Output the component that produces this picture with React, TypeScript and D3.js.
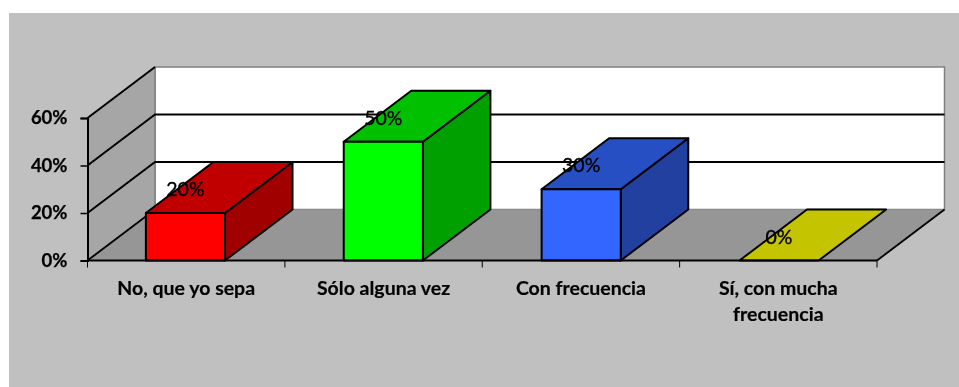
import React, { useEffect, useRef } from 'react';
import * as d3 from 'd3';

const categories = [['No, que yo sepa'], ['Sólo alguna vez'], ['Con frecuencia'], ['Sí, con mucha', 'frecuencia']];
const values = [20, 50, 30, 0];
const yTicks = [0, 20, 40, 60];
const frontColors = ['#ff0000', '#00ff00', '#3366ff', '#ffff00'];
const topColors = ['#c00000', '#00c000', '#2850c4', '#c4c400'];
const sideColors = ['#a00000', '#00a000', '#2040a0', '#a0a000'];

const FONT = 'Lato, sans-serif';

const App = () => {
  const svgRef = useRef<SVGSVGElement>(null);

  useEffect(() => {
    const svg = d3.select(svgRef.current);
    svg.selectAll('*').remove();

    const x0 = 87.5;
    const x1 = 877;
    const dx = 67.5; // oblique depth of the box
    const dy = -51;

    const y = d3.scaleLinear().domain([0, 60]).range([260.5, 118]);
    const x = d3.scaleBand<number>()
      .domain(d3.range(categories.length))
      .range([x0, x1])
      .paddingInner(0.6)
      .paddingOuter(0.295);
    const step = (x1 - x0) / categories.length;
    const line = d3.line();
    const poly = (pts: [number, number][]) => line(pts) + 'Z';

    const defs = svg.append('defs');
    defs.append('filter').attr('id', 'soft')
      .append('feGaussianBlur').attr('stdDeviation', 0.45);

    // panel
    svg.append('rect').attr('x', 9).attr('y', 13).attr('width', 950).attr('height', 374).attr('fill', '#c0c0c0');

    const g = svg.append('g').attr('filter', 'url(#soft)');

    // walls
    g.append('path')
      .attr('d', poly([[x0 + dx, y(60) + dy], [x1 + dx, y(60) + dy], [x1 + dx, y(0) + dy], [x0 + dx, y(0) + dy]]))
      .attr('fill', '#ffffff').attr('stroke', '#808080').attr('stroke-width', 1.5);
    g.append('path')
      .attr('d', poly([[x0, y(60)], [x0 + dx, y(60) + dy], [x0 + dx, y(0) + dy], [x0, y(0)]]))
      .attr('fill', '#a6a6a6');
    g.append('path')
      .attr('d', poly([[x0, y(0)], [x1, y(0)], [x1 + dx, y(0) + dy], [x0 + dx, y(0) + dy]]))
      .attr('fill', '#969696');
    g.append('path')
      .attr('d', line([[x0 + dx, y(60) + dy], [x0 + dx, y(0) + dy]]))
      .attr('stroke', '#808080').attr('stroke-width', 1.5).attr('fill', 'none');

    // gridlines along side wall and back wall
    yTicks.filter(t => t > 0).forEach(t => {
      g.append('path')
        .attr('d', line(t === 60
          ? [[x0, y(t)], [x0 + dx, y(t) + dy]]
          : [[x0, y(t)], [x0 + dx, y(t) + dy], [x1 + dx, y(t) + dy]]))
        .attr('fill', 'none').attr('stroke', '#000').attr('stroke-width', 2);
    });
    g.append('path')
      .attr('d', line([[x0, y(0)], [x0 + dx, y(0) + dy]]))
      .attr('stroke', '#000').attr('stroke-width', 1.8);
    g.append('path')
      .attr('d', line([[x1, y(0)], [x1 + dx, y(0) + dy]]))
      .attr('stroke', '#000').attr('stroke-width', 1.8);

    // bars
    const bw = x.bandwidth();
    values.forEach((v, i) => {
      const l = x(i) as number;
      const r = l + bw;
      const t = y(v);
      const b = y(0);
      const bar = g.append('g').attr('stroke', '#000').attr('stroke-width', 2).attr('stroke-linejoin', 'round');
      if (v > 0) {
        bar.append('path').attr('d', poly([[r, t], [r + dx, t + dy], [r + dx, b + dy], [r, b]])).attr('fill', sideColors[i]);
      }
      bar.append('path').attr('d', poly([[l, t], [l + dx, t + dy], [r + dx, t + dy], [r, t]])).attr('fill', topColors[i]);
      if (v > 0) {
        bar.append('rect').attr('x', l).attr('y', t).attr('width', bw).attr('height', b - t).attr('fill', frontColors[i]);
      }
    });

    // y axis
    const yAxis = g.append('g')
      .attr('transform', `translate(${x0},0)`)
      .call(d3.axisLeft(y).tickValues(yTicks).tickSize(7).tickPadding(13).tickFormat(d => `${d}%`));
    yAxis.select('.domain').attr('stroke', '#000').attr('stroke-width', 2);
    yAxis.selectAll('line').attr('stroke', '#000').attr('stroke-width', 1.5);
    yAxis.selectAll('text')
      .attr('fill', '#000')
      .attr('stroke', '#000')
      .attr('stroke-width', 0.25)
      .style('font-family', FONT)
      .style('font-size', '18.5px')
      .style('font-weight', '700');

    // x axis baseline with ticks on the category boundaries
    g.append('path').attr('d', line([[x0, y(0)], [x1, y(0)]])).attr('stroke', '#000').attr('stroke-width', 2.2);
    d3.range(categories.length + 1).forEach(i => {
      const px = x0 + i * step;
      g.append('path').attr('d', line([[px, y(0)], [px, y(0) + 7]])).attr('stroke', '#000').attr('stroke-width', 1);
    });

    // category labels
    categories.forEach((lines, i) => {
      const cx = x0 + (i + 0.5) * step;
      lines.forEach((s, j) => {
        g.append('text')
          .attr('x', cx)
          .attr('y', 295 + j * 25.5)
          .attr('text-anchor', 'middle')
          .attr('fill', '#000')
          .attr('stroke', '#000')
          .attr('stroke-width', 0.2)
          .style('font-family', FONT)
          .style('font-size', '19.5px')
          .style('font-weight', '700')
          .text(s);
      });
    });

    // data labels
    values.forEach((v, i) => {
      g.append('text')
        .attr('x', (x(i) as number) + bw / 2)
        .attr('y', y(v) - 17)
        .attr('text-anchor', 'middle')
        .attr('fill', '#000')
        .attr('stroke', '#000')
        .attr('stroke-width', 0.35)
        .style('font-family', FONT)
        .style('font-size', '19.5px')
        .text(`${v}%`);
    });
  }, []);

  return <svg ref={svgRef} width={959} height={387} style={{ position: 'absolute', left: 0, top: 0, display: 'block' }} />;
};

export default App;
